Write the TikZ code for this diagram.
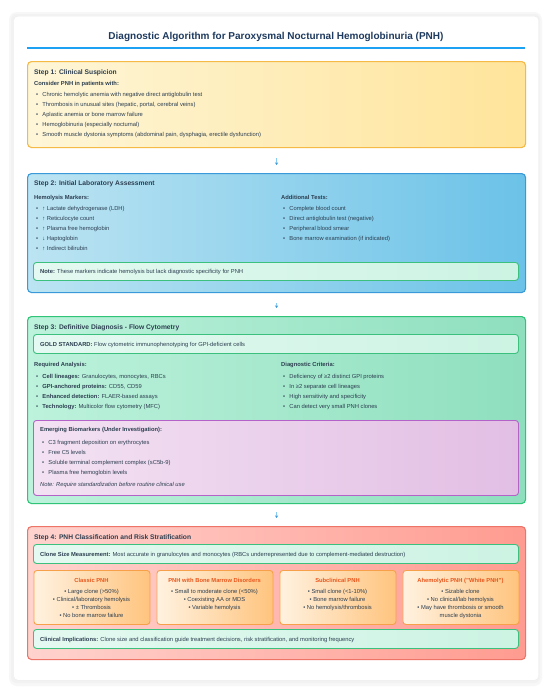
\documentclass[tikz,border=0pt]{standalone}
\usepackage{fontspec}
\setmainfont{Liberation Sans}
\usetikzlibrary{arrows.meta}
\definecolor{txt}{HTML}{2C3E50}
\definecolor{ttl}{HTML}{1E3A5F}
\definecolor{uline}{HTML}{1DA1F2}
\definecolor{ya}{HTML}{FEF6D8}\definecolor{yz}{HTML}{FFE49A}\definecolor{yb}{HTML}{F5B945}
\definecolor{ba}{HTML}{BCE4F2}\definecolor{bz}{HTML}{6BC2E8}\definecolor{bb}{HTML}{3A9AD9}
\definecolor{ga}{HTML}{BDF2DC}\definecolor{gz}{HTML}{8EDFBE}\definecolor{gb}{HTML}{2FC477}
\definecolor{ma}{HTML}{E4F9F1}\definecolor{mz}{HTML}{CCF3E3}\definecolor{mb}{HTML}{3CC07E}
\definecolor{pa}{HTML}{F3E2F3}\definecolor{pz}{HTML}{E2BEE4}\definecolor{pb}{HTML}{B462C8}
\definecolor{ra}{HTML}{FFD3CE}\definecolor{rz}{HTML}{FF9B90}\definecolor{rb}{HTML}{EE7468}
\definecolor{oa}{HTML}{FFF2E0}\definecolor{oz}{HTML}{FFC47E}\definecolor{ob}{HTML}{F7A04A}\definecolor{oh}{HTML}{E8561C}
\definecolor{arr}{HTML}{86CBF2}
\definecolor{arrh}{HTML}{3D9AD8}
\newcommand\fbody{\fontsize{5.8}{7.8}\selectfont}
\newcommand\bulx{\makebox[6.2pt][l]{•}}
\tikzset{
  stepbox/.style={rounded corners=4pt, line width=1.1pt, inner sep=0pt, anchor=north west, minimum width=498pt},
  innerbox/.style={rounded corners=3pt, line width=0.9pt, inner sep=0pt, anchor=north west, minimum width=485pt},
  notebox/.style={innerbox, left color=ma, right color=mz, draw=mb, minimum height=19pt},
  catbox/.style={rounded corners=3pt, line width=0.9pt, inner sep=0pt, anchor=north west, minimum width=116pt, minimum height=54pt, left color=oa, right color=oz, draw=ob},
  body/.style={font=\fbody, text=txt, inner sep=0pt, anchor=base west},
  sub/.style={body, font=\fbody\bfseries},
  steptitle/.style={font=\fontsize{6.7}{8}\selectfont\bfseries, text=txt, inner sep=0pt, anchor=base west},
  cathead/.style={font=\fbody\bfseries, text=oh, inner sep=0pt, anchor=base},
  catline/.style={font=\fbody, text=txt, inner sep=0pt, anchor=base},
  flow/.style={draw=arr, line width=1.3pt, -{Stealth[length=2.6pt,width=3.2pt,color=arrh]}}
}
\begin{document}
\begin{tikzpicture}[x=1pt,y=-1pt]
\useasboundingbox (0,0) rectangle (550,689);
\fill[white] (0,0) rectangle (550,689);
% card with soft shadow
\fill[black!3, rounded corners=8pt] (9,12) rectangle (542,686);
\fill[black!5, rounded corners=6pt] (11,14) rectangle (540,683);
\node[fill=white, draw=black!7, line width=0.4pt, rounded corners=4pt, inner sep=0pt, anchor=north west, minimum width=525pt, minimum height=664pt] (card) at (13.5,16) {};

% title
\node[font=\fontsize{10}{12}\selectfont\bfseries, text=ttl, inner sep=0pt, anchor=base] (title) at (276,39.5) {Diagnostic Algorithm for Paroxysmal Nocturnal Hemoglobinuria (PNH)};
\coordinate (ulL) at (27,48);
\coordinate (ulR) at (525,48);
\draw[uline, line width=1.4pt] (ulL) -- (ulR);

% ---------- Step 1
\node[stepbox, left color=ya, right color=yz, draw=yb, minimum height=86pt] (s1) at (27,61) {};
\node[steptitle] (s1t) at (34,74.4) {Step 1: Clinical Suspicion};
\node[sub] (s1s) at (34,85) {Consider PNH in patients with:};
\foreach \t [count=\i] in {{Chronic hemolytic anemia with negative direct antiglobulin test},
  {Thrombosis in unusual sites (hepatic, portal, cerebral veins)},
  {Aplastic anemia or bone marrow failure},
  {Hemoglobinuria (especially nocturnal)},
  {Smooth muscle dystonia symptoms (abdominal pain, dysphagia, erectile dysfunction)}}
  \node[body] (s1b\i) at (36,{86+10*\i}) {\bulx\t};

% ---------- Step 2
\node[stepbox, left color=ba, right color=bz, draw=bb, minimum height=119pt] (s2) at (27,173) {};
\node[steptitle] (s2t) at (34,185.4) {Step 2: Initial Laboratory Assessment};
\node[sub] (s2h) at (34,199) {Hemolysis Markers:};
\foreach \t [count=\i] in {{↑ Lactate dehydrogenase (LDH)},{↑ Reticulocyte count},{↑ Plasma free hemoglobin},{↓ Haptoglobin},{↑ Indirect bilirubin}}
  \node[body] (s2l\i) at (36,{200+10*\i}) {\bulx\t};
\node[sub] (s2a) at (281,199) {Additional Tests:};
\foreach \t [count=\i] in {{Complete blood count},{Direct antiglobulin test (negative)},{Peripheral blood smear},{Bone marrow examination (if indicated)}}
  \node[body] (s2r\i) at (283,{200+10*\i}) {\bulx\t};
\node[notebox, minimum height=18pt] (s2n) at (33,262) {};
\node[body] (s2nt) at (40,273) {\textbf{Note:} These markers indicate hemolysis but lack diagnostic specificity for PNH};

% ---------- Step 3
\node[stepbox, left color=ga, right color=gz, draw=gb, minimum height=187pt] (s3) at (27,316) {};
\node[steptitle] (s3t) at (34,329.4) {Step 3: Definitive Diagnosis - Flow Cytometry};
\node[notebox] (s3g) at (33,334) {};
\node[body] (s3gt) at (40,346) {\textbf{GOLD STANDARD:} Flow cytometric immunophenotyping for GPI-deficient cells};
\node[sub] (s3h) at (34,366) {Required Analysis:};
\foreach \a/\t [count=\i] in {{Cell lineages:}/{Granulocytes, monocytes, RBCs},{GPI-anchored proteins:}/{CD55, CD59},{Enhanced detection:}/{FLAER-based assays},{Technology:}/{Multicolor flow cytometry (MFC)}}
  \node[body] (s3l\i) at (36,{368+10*\i}) {\bulx\textbf{\a} \t};
\node[sub] (s3d) at (281,366) {Diagnostic Criteria:};
\foreach \t [count=\i] in {{Deficiency of ≥2 distinct GPI proteins},{In ≥2 separate cell lineages},{High sensitivity and specificity},{Can detect very small PNH clones}}
  \node[body] (s3r\i) at (283,{368+10*\i}) {\bulx\t};
\node[innerbox, left color=pa, right color=pz, draw=pb, minimum height=75pt] (s3p) at (33,420) {};
\node[sub] (s3ph) at (40,431) {Emerging Biomarkers (Under Investigation):};
\foreach \t [count=\i] in {{C3 fragment deposition on erythrocytes},{Free C5 levels},{Soluble terminal complement complex (sC5b-9)},{Plasma free hemoglobin levels}}
  \node[body] (s3p\i) at (42,{434+10*\i}) {\bulx\t};
\node[body, font=\fbody\itshape] (s3pn) at (40,486) {Note: Require standardization before routine clinical use};

% ---------- Step 4
\node[stepbox, left color=ra, right color=rz, draw=rb, minimum height=133pt] (s4) at (27,526) {};
\node[steptitle] (s4t) at (34,539.4) {Step 4: PNH Classification and Risk Stratification};
\node[notebox] (s4c) at (33,544) {};
\node[body] (s4ct) at (40,556) {\textbf{Clone Size Measurement:} Most accurate in granulocytes and monocytes (RBCs underrepresented due to complement-mediated destruction)};

\node[catbox] (k1) at (33.5,570) {};
\node[cathead] (k1h) at (91.5,582) {Classic PNH};
\foreach \t [count=\i] in {{• Large clone (>50\%)},{• Clinical/laboratory hemolysis},{• ± Thrombosis},{• No bone marrow failure}}
  \node[catline] (k1l\i) at (91.5,{585+8*\i}) {\t};

\node[catbox] (k2) at (156.5,570) {};
\node[cathead] (k2h) at (214.5,582) {PNH with Bone Marrow Disorders};
\foreach \t [count=\i] in {{• Small to moderate clone (<50\%)},{• Coexisting AA or MDS},{• Variable hemolysis}}
  \node[catline] (k2l\i) at (214.5,{585+8*\i}) {\t};

\node[catbox] (k3) at (279.5,570) {};
\node[cathead] (k3h) at (337.5,582) {Subclinical PNH};
\foreach \t [count=\i] in {{• Small clone (<1-10\%)},{• Bone marrow failure},{• No hemolysis/thrombosis}}
  \node[catline] (k3l\i) at (337.5,{585+8*\i}) {\t};

\node[catbox] (k4) at (402.5,570) {};
\node[cathead] (k4h) at (460.5,582) {Ahemolytic PNH ("White PNH")};
\foreach \t [count=\i] in {{• Sizable clone},{• No clinical/lab hemolysis},{• May have thrombosis or smooth},{muscle dystonia}}
  \node[catline] (k4l\i) at (460.5,{585+8*\i}) {\t};

\node[notebox] (s4i) at (33,629) {};
\node[body] (s4it) at (40,641) {\textbf{Clinical Implications:} Clone size and classification guide treatment decisions, risk stratification, and monitoring frequency};

% ---------- flow arrows
\draw[flow, shorten <=10pt, shorten >=8pt] (s1.south) -- (s2.north);
\draw[flow, shorten <=10pt, shorten >=8pt] (s2.south) -- (s3.north);
\draw[flow, shorten <=8pt, shorten >=8pt] (s3.south) -- (s4.north);
\end{tikzpicture}
\end{document}
